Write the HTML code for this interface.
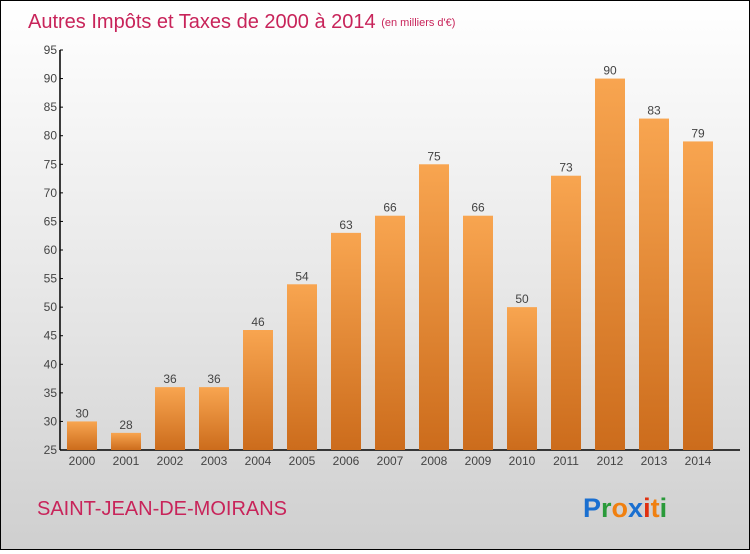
<!DOCTYPE html>
<html><head><meta charset="utf-8"><style>
html,body{margin:0;padding:0}
body{width:750px;height:550px;overflow:hidden;font-family:"Liberation Sans",sans-serif}
#wrap{position:relative;width:748px;height:548px;border:1px solid #000;background:linear-gradient(#ffffff,#e4e4e4 60%,#cfcfcf)}
</style></head><body>
<div id="wrap">
<svg id="chart" width="748" height="548">
<defs><linearGradient id="bg" x1="0" y1="0" x2="0" y2="1"><stop offset="0" stop-color="#f8a550"/><stop offset="1" stop-color="#cc6c1c"/></linearGradient></defs>
<text x="27" y="27" font-size="20" fill="#c8245a">Autres Impôts et Taxes de 2000 à 2014 <tspan font-size="11" dy="-2">(en milliers d'€)</tspan></text>
<text x="36" y="514" font-size="20" fill="#c8245a">SAINT-JEAN-DE-MOIRANS</text>
<text x="582" y="516" font-size="27" font-weight="bold"><tspan fill="#1a6fd0">P</tspan><tspan fill="#2a9a3a">r</tspan><tspan fill="#f08010">o</tspan><tspan fill="#1a6fd0">x</tspan><tspan fill="#e03010">i</tspan><tspan fill="#f08010">t</tspan><tspan fill="#2a9a3a">i</tspan></text>
<g id="axes"></g><g id="bars"></g>
</svg></div>
<script>
const years=["2000","2001","2002","2003","2004","2005","2006","2007","2008","2009","2010","2011","2012","2013","2014"];
const values=[30,28,36,36,46,54,63,66,75,66,50,73,90,83,79];
const yTicks=[25,30,35,40,45,50,55,60,65,70,75,80,85,90,95];
const NS="http://www.w3.org/2000/svg";
const y0=449,yTop=49,vMin=25,vMax=95,axX=59;
function y(v){return y0-(v-vMin)/(vMax-vMin)*(y0-yTop);}
function xc(i){return 81+i*44;}
function mk(t,a,p){const e=document.createElementNS(NS,t);for(const k in a)e.setAttribute(k,a[k]);p.appendChild(e);return e;}
const ax=document.getElementById('axes'),bs=document.getElementById('bars');
const yl=mk('line',{x1:axX,y1:yTop,x2:axX,y2:y0,stroke:'#000','stroke-width':1.5},ax);


const xl=mk('line',{x1:axX,y1:y0,x2:739,y2:y0,stroke:'#000','stroke-width':1.5},ax);


yTicks.forEach(v=>{
 mk('line',{x1:axX,y1:y(v),x2:axX+3,y2:y(v),stroke:'#000'},ax);
 const t=mk('text',{x:axX-3,y:y(v)+4,'font-size':12,fill:'#444','text-anchor':'end'},ax);
 t.textContent=v;
 
 
});
years.forEach((yr,i)=>{
 const v=values[i];
 const r=mk('rect',{x:xc(i)-15,y:y(v),width:30,height:y0-y(v),fill:'url(#bg)'},bs);
 
 
 const l=mk('text',{x:xc(i),y:y(v)-4,'font-size':12,fill:'#444','text-anchor':'middle'},bs);
 l.textContent=v;
 
 
 const xt=mk('text',{x:xc(i),y:y0+15,'font-size':12,fill:'#444','text-anchor':'middle'},ax);
 xt.textContent=yr;
 
 
});
</script>
</body></html>
